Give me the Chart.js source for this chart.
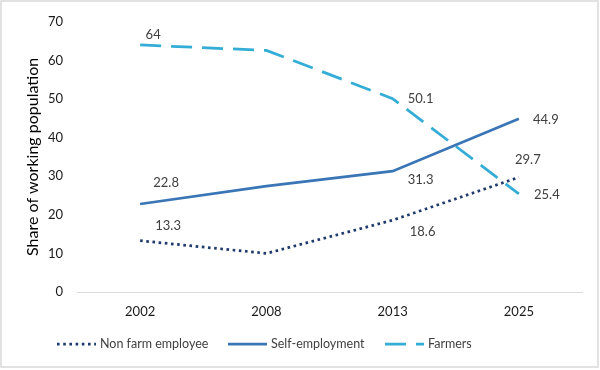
<!DOCTYPE html>
<html><head><meta charset="utf-8">
<script src="https://cdn.jsdelivr.net/npm/chart.js@4.4.0/dist/chart.umd.min.js"></script>
<style>html,body{margin:0;padding:0;background:#fff}</style>
</head><body>
<canvas id="c" width="600" height="370"></canvas>
<script>
// ---- data ----
const categories = ['2002', '2008', '2013', '2025'];
const nonFarmEmployee = [13.3, 10.0, 18.6, 29.7];
const selfEmployment = [22.8, 27.4, 31.3, 44.9];
const farmers = [64, 62.6, 50.1, 25.4];
const seriesNames = ['Non farm employee', 'Self-employment', 'Farmers'];
const labelShown = [true, false, true, true];
const yTicks = {min: 0, max: 70, step: 10};
const yTitle = 'Share of working population';

// ---- styling ----
const FONT = 'Lato, "Open Sans", sans-serif';
const labelOffsets = [
  [[28, -15], null, [30, 12], [9, -18]],
  [[26, -21], null, [28, 9], [27, 1]],
  [[13, -10], null, [28, 0], [28, 1]]
];
const legendX = [57, 228, 385];

const dataLabelPlugin = {
  id: 'dataLabels',
  afterDatasetsDraw(chart) {
    const ctx = chart.ctx;
    ctx.save();
    ctx.font = '13px ' + FONT;
    ctx.fillStyle = '#404040';
    ctx.textAlign = 'center';
    ctx.textBaseline = 'middle';
    chart.data.datasets.forEach((ds, di) => {
      const meta = chart.getDatasetMeta(di);
      meta.data.forEach((pt, i) => {
        if (!labelShown[i]) return;
        const off = labelOffsets[di][i] || [0, 0];
        ctx.fillText(String(ds.data[i]), pt.x + off[0], pt.y + off[1]);
      });
    });
    ctx.restore();
  }
};

const legendPlugin = {
  id: 'customLegend',
  afterDraw(chart) {
    const ctx = chart.ctx;
    const y = 344;
    chart.data.datasets.forEach((ds, di) => {
      const x = legendX[di];
      ctx.save();
      ctx.strokeStyle = ds.borderColor;
      ctx.lineWidth = ds.borderWidth;
      ctx.setLineDash(ds.borderDash || []);
      ctx.lineCap = ds.borderCapStyle || 'butt';
      ctx.beginPath();
      ctx.moveTo(x, y);
      ctx.lineTo(x + 39, y);
      ctx.stroke();
      ctx.restore();
      ctx.save();
      ctx.font = '12.5px ' + FONT;
      ctx.fillStyle = '#404040';
      ctx.textBaseline = 'middle';
      ctx.fillText(ds.label, x + 43, y);
      ctx.restore();
    });
    // chart border
    ctx.save();
    ctx.strokeStyle = '#d9d9d9';
    ctx.lineWidth = 1.5;
    ctx.strokeRect(1, 1, 597, 366);
    ctx.restore();
  }
};

new Chart(document.getElementById('c'), {
  type: 'line',
  data: {
    labels: categories,
    datasets: [
      {label: seriesNames[0], data: nonFarmEmployee, borderColor: '#1F3A6B', borderWidth: 2.75,
       borderDash: [2.6, 3.6], borderCapStyle: 'butt', pointRadius: 0, tension: 0, fill: false},
      {label: seriesNames[1], data: selfEmployment, borderColor: '#3A76B6', borderWidth: 2.75,
       pointRadius: 0, tension: 0, fill: false},
      {label: seriesNames[2], data: farmers, borderColor: '#33ADD6', borderWidth: 2.75,
       borderDash: [21, 10], borderCapStyle: 'butt', pointRadius: 0, tension: 0, fill: false}
    ]
  },
  options: {
    responsive: false,
    animation: false,
    devicePixelRatio: 1,
    layout: {padding: {left: 0, right: 18, top: 19, bottom: 48}},
    plugins: {legend: {display: false}, tooltip: {enabled: false}},
    scales: {
      x: {
        offset: true,
        grid: {display: false, drawTicks: false},
        border: {display: true, color: '#d9d9d9', width: 1},
        ticks: {color: '#1a1a1a', font: {family: FONT, size: 13}, padding: 12, maxRotation: 0},
        afterFit(s) { s.height = 30; }
      },
      y: {
        min: yTicks.min, max: yTicks.max,
        grid: {display: false, drawTicks: false},
        border: {display: false},
        ticks: {stepSize: yTicks.step, color: '#1a1a1a', font: {family: FONT, size: 13}, padding: 14},
        title: {display: true, text: yTitle, color: '#000', font: {family: FONT, size: 16}, padding: {top: 23, bottom: 0}},
        afterFit(s) { s.width = 77; }
      }
    }
  },
  plugins: [dataLabelPlugin, legendPlugin]
});
</script>
</body></html>
